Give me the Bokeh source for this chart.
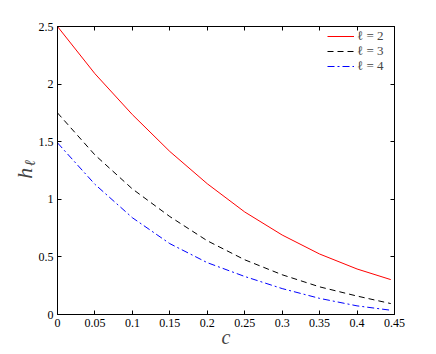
from bokeh.plotting import figure
from bokeh.models import (FixedTicker, LinearAxis, Legend, LegendItem, Range1d)
from bokeh.embed import file_html
from bokeh.resources import INLINE

# ---- data ----
c = [0.0, 0.05, 0.10, 0.15, 0.20, 0.25, 0.30, 0.35, 0.40, 0.445]
h_l2 = [2.50, 2.09, 1.735, 1.415, 1.135, 0.89, 0.69, 0.525, 0.395, 0.303]
h_l3 = [1.75, 1.385, 1.09, 0.85, 0.64, 0.475, 0.345, 0.24, 0.16, 0.095]
h_l4 = [1.49, 1.13, 0.84, 0.615, 0.45, 0.33, 0.225, 0.14, 0.075, 0.037]
series_names = ["ℓ = 2", "ℓ = 3", "ℓ = 4"]

x_ticks = [0.0, 0.05, 0.1, 0.15, 0.2, 0.25, 0.3, 0.35, 0.4, 0.45]
x_tick_labels = ["0", "0.05", "0.1", "0.15", "0.2", "0.25", "0.3", "0.35", "0.4", "0.45"]
y_ticks = [0.0, 0.5, 1.0, 1.5, 2.0, 2.5]
y_tick_labels = ["0", "0.5", "1", "1.5", "2", "2.5"]

FONT = "'Liberation Serif'"
NB = "\u00a0"

p = figure(width=436, height=354, output_backend="svg", toolbar_location=None,
           x_range=Range1d(0, 0.45), y_range=Range1d(0, 2.5),
           min_border_left=57, min_border_right=42, min_border_top=26, min_border_bottom=40)
p.background_fill_color = "white"
p.border_fill_color = "white"
p.outline_line_color = "black"
p.outline_line_width = 1
p.grid.visible = False

xb = p.xaxis[0]
yl = p.yaxis[0]

def style_axis(ax, ticks, labels, show_labels=True):
    ax.ticker = FixedTicker(ticks=ticks)
    if show_labels:
        ax.major_label_overrides = {t: l for t, l in zip(ticks, labels)}
    else:
        ax.major_label_overrides = {t: "" for t in ticks}
    ax.minor_tick_line_color = None
    ax.major_tick_in = 4
    ax.major_tick_out = 0
    ax.major_tick_line_color = "black"
    ax.axis_line_color = "black"
    ax.major_label_text_font = FONT
    ax.major_label_text_font_size = "12px"
    ax.major_label_text_color = "black"
    ax.major_label_standoff = 4 if show_labels else 0

style_axis(xb, x_ticks, x_tick_labels)
style_axis(yl, y_ticks, y_tick_labels)

top = LinearAxis()
style_axis(top, x_ticks, x_tick_labels, show_labels=False)
right = LinearAxis()
style_axis(right, y_ticks, y_tick_labels, show_labels=False)
p.add_layout(top, "above")
p.add_layout(right, "right")

xb.axis_label = "c"
xb.axis_label_text_font = FONT
xb.axis_label_text_font_style = "italic"
xb.axis_label_text_font_size = "20px"
xb.axis_label_standoff = -4

# y label: "h" with subscript "ℓ" -> subscript as label of the main left axis,
# "h" as label of an outer, tick-less left axis
yl.axis_label = NB * 4 + "ℓ"
yl.axis_label_text_font = FONT
yl.axis_label_text_font_style = "italic"
yl.axis_label_text_font_size = "15px"
yl.axis_label_standoff = -2

yh = LinearAxis(ticker=FixedTicker(ticks=[]))
yh.axis_line_color = None
yh.major_tick_line_color = None
yh.minor_tick_line_color = None
yh.major_label_standoff = 0
yh.axis_label = "h" + NB
yh.axis_label_text_font = FONT
yh.axis_label_text_font_style = "italic"
yh.axis_label_text_font_size = "22px"
yh.axis_label_standoff = -18
p.add_layout(yh, "left")

r2 = p.line(c, h_l2, line_color="red", line_width=1)
r3 = p.line(c, h_l3, line_color="black", line_width=1, line_dash="6 4")
r4 = p.line(c, h_l4, line_color="blue", line_width=1, line_dash="7 3 2 3")

# one legend per row (top-right, inside the frame)
for i, (name, r) in enumerate(zip(series_names, [r2, r3, r4])):
    lg = Legend(items=[LegendItem(label=name, renderers=[r])], location=(270, 270 - 15 * i))
    lg.background_fill_alpha = 0
    lg.border_line_color = None
    lg.label_text_font = FONT
    lg.label_text_font_size = "13px"
    lg.glyph_width = 27
    lg.glyph_height = 12
    lg.label_height = 12
    lg.label_standoff = 3
    lg.padding = 0
    lg.margin = 0
    p.add_layout(lg)

open("out.html", "w").write(file_html(p, INLINE))
